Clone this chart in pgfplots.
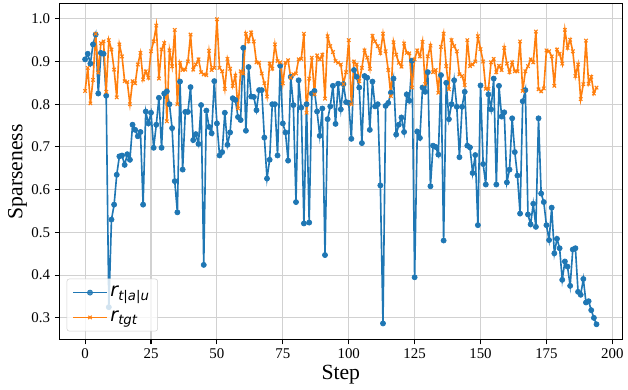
\documentclass[border=0pt]{standalone}
\usepackage{fontspec}
\setmainfont{Liberation Serif}
\newfontfamily\djv{DejaVu Sans}
\usepackage{pgfplots}
\usepackage{pgfplotstable}
\pgfplotsset{compat=1.18}
\definecolor{mblue}{HTML}{1F77B4}
\definecolor{morange}{HTML}{FF7F0E}

\pgfplotstableread{
x y
0 0.905
1 0.918
2 0.895
3 0.94
4 0.963
5 0.825
6 0.92
7 0.918
8 0.82
9 0.325
10 0.53
11 0.565
12 0.635
13 0.678
14 0.68
15 0.658
16 0.683
17 0.67
18 0.752
19 0.74
20 0.725
21 0.735
22 0.565
23 0.783
24 0.755
25 0.78
26 0.698
27 0.752
28 0.815
29 0.698
30 0.825
31 0.83
32 0.80
33 0.744
34 0.62
35 0.547
36 0.853
37 0.647
38 0.782
39 0.782
40 0.84
41 0.716
42 0.73
43 0.707
44 0.798
45 0.424
46 0.785
47 0.747
48 0.732
49 0.854
50 0.755
51 0.68
52 0.688
53 0.78
54 0.705
55 0.734
56 0.814
57 0.81
58 0.77
59 0.763
60 0.932
61 0.738
62 0.887
63 0.818
64 0.817
65 0.786
66 0.833
67 0.833
68 0.722
69 0.626
70 0.67
71 0.80
72 0.80
73 0.68
74 0.89
75 0.755
76 0.734
77 0.668
78 0.864
79 0.798
80 0.571
81 0.856
82 0.792
83 0.521
84 0.80
85 0.523
86 0.825
87 0.831
88 0.783
89 0.726
90 0.79
91 0.447
92 0.765
93 0.795
94 0.843
95 0.754
96 0.848
97 0.788
98 0.847
99 0.805
100 0.803
101 0.719
102 0.88
103 0.864
104 0.839
105 0.709
106 0.866
107 0.862
108 0.74
109 0.853
110 0.795
111 0.80
112 0.61
113 0.287
114 0.796
115 0.803
116 0.827
117 0.86
118 0.729
119 0.752
120 0.769
121 0.735
122 0.823
123 0.808
124 0.902
125 0.395
126 0.736
127 0.721
128 0.839
129 0.829
130 0.875
131 0.608
132 0.703
133 0.70
134 0.682
135 0.868
136 0.481
137 0.85
138 0.765
139 0.80
140 0.856
141 0.794
142 0.676
143 0.794
144 0.829
145 0.703
146 0.699
147 0.639
148 0.681
149 0.517
150 0.844
151 0.66
152 0.612
153 0.823
154 0.788
155 0.86
156 0.612
157 0.843
158 0.771
159 0.781
160 0.617
161 0.647
162 0.767
163 0.688
164 0.633
165 0.544
166 0.807
167 0.833
168 0.542
169 0.519
170 0.567
171 0.513
172 0.767
173 0.591
174 0.571
175 0.517
176 0.482
177 0.558
178 0.451
179 0.485
180 0.463
181 0.389
182 0.432
183 0.42
184 0.375
185 0.46
186 0.463
187 0.361
188 0.354
189 0.391
190 0.336
191 0.339
192 0.318
193 0.30
194 0.285
}\bluedata

\pgfplotstableread{
x y
0 0.831
1 0.885
2 0.802
3 0.857
4 0.965
5 0.874
6 0.943
7 0.947
8 0.829
9 0.95
10 0.928
11 0.881
12 0.816
13 0.94
14 0.912
15 0.854
16 0.852
17 0.80
18 0.854
19 0.849
20 0.893
21 0.92
22 0.858
23 0.877
24 0.862
25 0.924
26 0.947
27 0.984
28 0.86
29 0.928
30 0.943
31 0.76
32 0.926
33 0.889
34 0.974
35 0.80
36 0.897
37 0.88
38 0.881
39 0.90
40 0.963
41 0.881
42 0.893
43 0.905
44 0.875
45 0.87
46 0.868
47 0.925
48 0.88
49 0.885
50 0.999
51 0.885
52 0.877
53 0.836
54 0.906
55 0.883
56 0.843
57 0.867
58 0.79
59 0.877
60 0.872
61 0.965
62 0.947
63 0.968
64 0.947
65 0.898
66 0.897
67 0.872
68 0.849
69 0.818
70 0.895
71 0.883
72 0.94
73 0.901
74 0.898
75 0.849
76 0.897
77 0.903
78 0.862
79 0.87
80 0.872
81 0.905
82 0.906
83 0.965
84 0.78
85 0.86
86 0.909
87 0.823
88 0.914
89 0.905
90 0.916
91 0.813
92 0.959
93 0.936
94 0.922
95 0.901
96 0.897
97 0.893
98 0.847
99 0.875
100 0.95
101 0.80
102 0.90
103 0.893
104 0.854
105 0.885
106 0.926
107 0.909
108 0.883
109 0.96
110 0.947
111 0.936
112 0.92
113 0.965
114 0.924
115 0.88
116 0.819
117 0.945
118 0.916
119 0.897
120 0.888
121 0.942
122 0.92
123 0.919
124 0.839
125 0.905
126 0.926
127 0.912
128 0.946
129 0.847
130 0.912
131 0.937
132 0.875
133 0.88
134 0.827
135 0.934
136 0.965
137 0.889
138 0.835
139 0.95
140 0.936
141 0.924
142 0.87
143 0.866
144 0.845
145 0.95
146 0.889
147 0.893
148 0.90
149 0.959
150 0.929
151 0.90
152 0.836
153 0.836
154 0.898
155 0.906
156 0.875
157 0.89
158 0.88
159 0.932
160 0.895
161 0.875
162 0.898
163 0.877
164 0.877
165 0.947
166 0.831
167 0.877
168 0.889
169 0.905
170 0.898
171 0.97
172 0.835
173 0.83
174 0.837
175 0.926
176 0.924
177 0.912
178 0.843
179 0.928
180 0.918
181 0.895
182 0.974
183 0.932
184 0.951
185 0.924
186 0.866
187 0.893
188 0.812
189 0.847
190 0.949
191 0.848
192 0.864
193 0.825
194 0.839
}\orangedata

\begin{document}
\begin{tikzpicture}
\begin{axis}[
  name=main,
  scale only axis,
  width=415.7pt, height=248pt,
  xmin=-9.7, xmax=203.7, ymin=0.2493, ymax=1.0347,
  xtick={0,25,50,75,100,125,150,175,200},
  ytick={0.3,0.4,0.5,0.6,0.7,0.8,0.9,1.0},
  yticklabel style={/pgf/number format/fixed,/pgf/number format/fixed zerofill,/pgf/number format/precision=1},
  /pgf/number format/assume math mode=true,
  tick label style={font=\fontsize{11}{13}\selectfont},
  xlabel={Step}, ylabel={Sparseness},
  label style={font=\fontsize{16}{19}\selectfont},
  xlabel style={at={(axis description cs:0.5,-0.1036)},anchor=center},
  ylabel style={at={(axis description cs:-0.0746,0.5)},anchor=center},
  grid=major,
  major grid style={draw=black!18, line width=0.8pt},
  tick pos=left, tick align=outside, major tick length=3.5pt,
  tick style={black, line width=0.8pt},
  axis line style={line width=0.8pt},
  legend style={at={(axis description cs:0.0125,0.024)}, anchor=south west,
    draw=black!18, rounded corners=2pt, fill=white, fill opacity=0.8, text opacity=1,
    font=\fontsize{14}{16}\selectfont, inner xsep=4pt, inner ysep=3.5pt, row sep=5pt},
  legend cell align=left,
  legend image code/.code={\draw[mark repeat=2,mark phase=2,#1] plot coordinates {(0cm,0cm) (0.44cm,0cm) (0.88cm,0cm)};},
]
\addplot[color=mblue, line width=1.2pt, mark=*, mark size=1.9pt, mark options={fill=mblue, draw=mblue, line width=0.5pt}] table[x=x,y=y] {\bluedata};
\addlegendentry{{\djv\itshape r\textsubscript{t|a|u}}}
\addplot[color=morange, line width=1.2pt, mark=x, mark size=1.8pt, mark options={line width=0.8pt}] table[x=x,y=y] {\orangedata};
\addlegendentry{{\djv\itshape r\textsubscript{tgt}}}
\end{axis}
\useasboundingbox ([shift={(-44pt,-36.7pt)}]main.south west) rectangle ([shift={(1.1pt,2.9pt)}]main.north east);
\end{tikzpicture}
\end{document}
